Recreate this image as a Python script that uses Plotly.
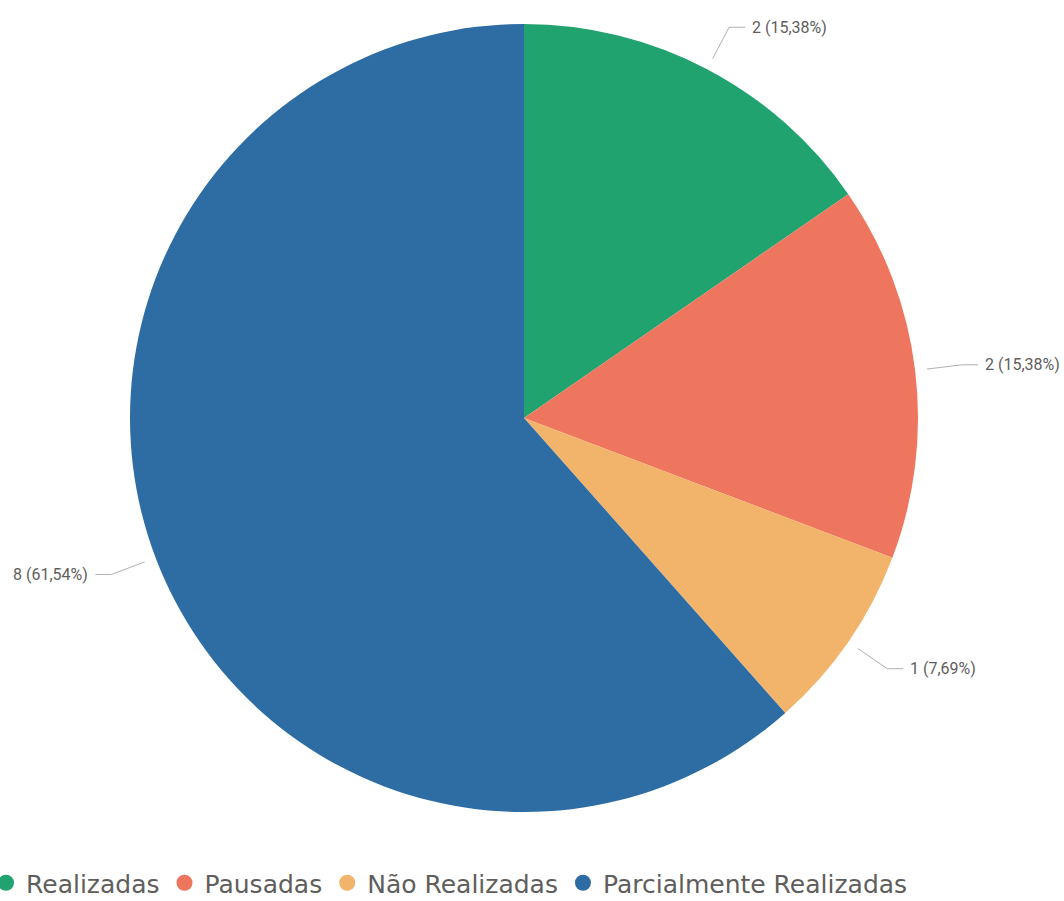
import math
import plotly.graph_objects as go

categories = ["Realizadas", "Pausadas", "Não Realizadas", "Parcialmente Realizadas"]
values = [2, 2, 1, 8]
colors = ["#21A36F", "#EE765E", "#F2B46A", "#2E6CA4"]

W, H = 1064, 901
MB = 60                    # bottom margin (legend lives there)
PH = H - MB                # plot-area height
cx, cy, R = 524, 418, 394  # pixel geometry of pie


def px(x):
    return x / W


def py(y):
    return (PH - y) / PH


dom_x = [px(cx - R), px(cx + R)]
dom_y = [py(cy + R), py(cy - R)]

fig = go.Figure()
fig.add_trace(go.Pie(
    labels=categories, values=values, sort=False, direction="clockwise",
    rotation=0, marker=dict(colors=colors, line=dict(width=0)),
    textinfo="none", hoverinfo="label+value+percent", showlegend=False,
    domain=dict(x=dom_x, y=dom_y),
))

# legend entries with circular markers
for c, col in zip(categories, colors):
    fig.add_trace(go.Scatter(x=[None], y=[None], mode="markers", name=c,
                             marker=dict(symbol="circle", size=16, color=col),
                             showlegend=True))

total = sum(values)
cum = 0
shapes = []
annotations = []
for v in values:
    mid = (cum + v / 2) / total * 2 * math.pi
    cum += v
    s, co = math.sin(mid), math.cos(mid)
    x1, y1 = cx + 1.03 * R * s, cy - 1.03 * R * co
    x2, y2 = cx + 1.12 * R * s, cy - 1.12 * R * co
    side = 1 if s >= 0 else -1
    x3 = x2 + side * 16
    pct = f"{v / total * 100:.2f}".replace(".", ",")
    label = f"{v} ({pct}%)"
    for (a, b), (c2, d) in [((x1, y1), (x2, y2)), ((x2, y2), (x3, y2))]:
        shapes.append(dict(type="line", xref="paper", yref="paper",
                           x0=px(a), y0=py(b), x1=px(c2), y1=py(d),
                           line=dict(color="#B3B0AD", width=1)))
    annotations.append(dict(
        x=px(x3 + side * 5), y=py(y2), xref="paper", yref="paper",
        text=label, showarrow=False, xanchor="left" if side > 0 else "right",
        yanchor="middle", font=dict(family="Roboto", size=16, color="#605E5C"),
    ))

fig.update_layout(
    width=W, height=H, margin=dict(l=0, r=0, t=0, b=MB, autoexpand=False),
    paper_bgcolor="white", plot_bgcolor="white",
    xaxis=dict(visible=False), yaxis=dict(visible=False),
    shapes=shapes, annotations=annotations,
    legend=dict(orientation="h", x=px(-14), xanchor="left", y=py(906), yanchor="bottom",
                font=dict(family="DejaVu Sans", size=25, color="#605E5C"),
                itemsizing="trace", itemwidth=30),
)

fig.write_html("out.html", config={"displayModeBar": False},
               post_script="document.body.style.margin='0';")
